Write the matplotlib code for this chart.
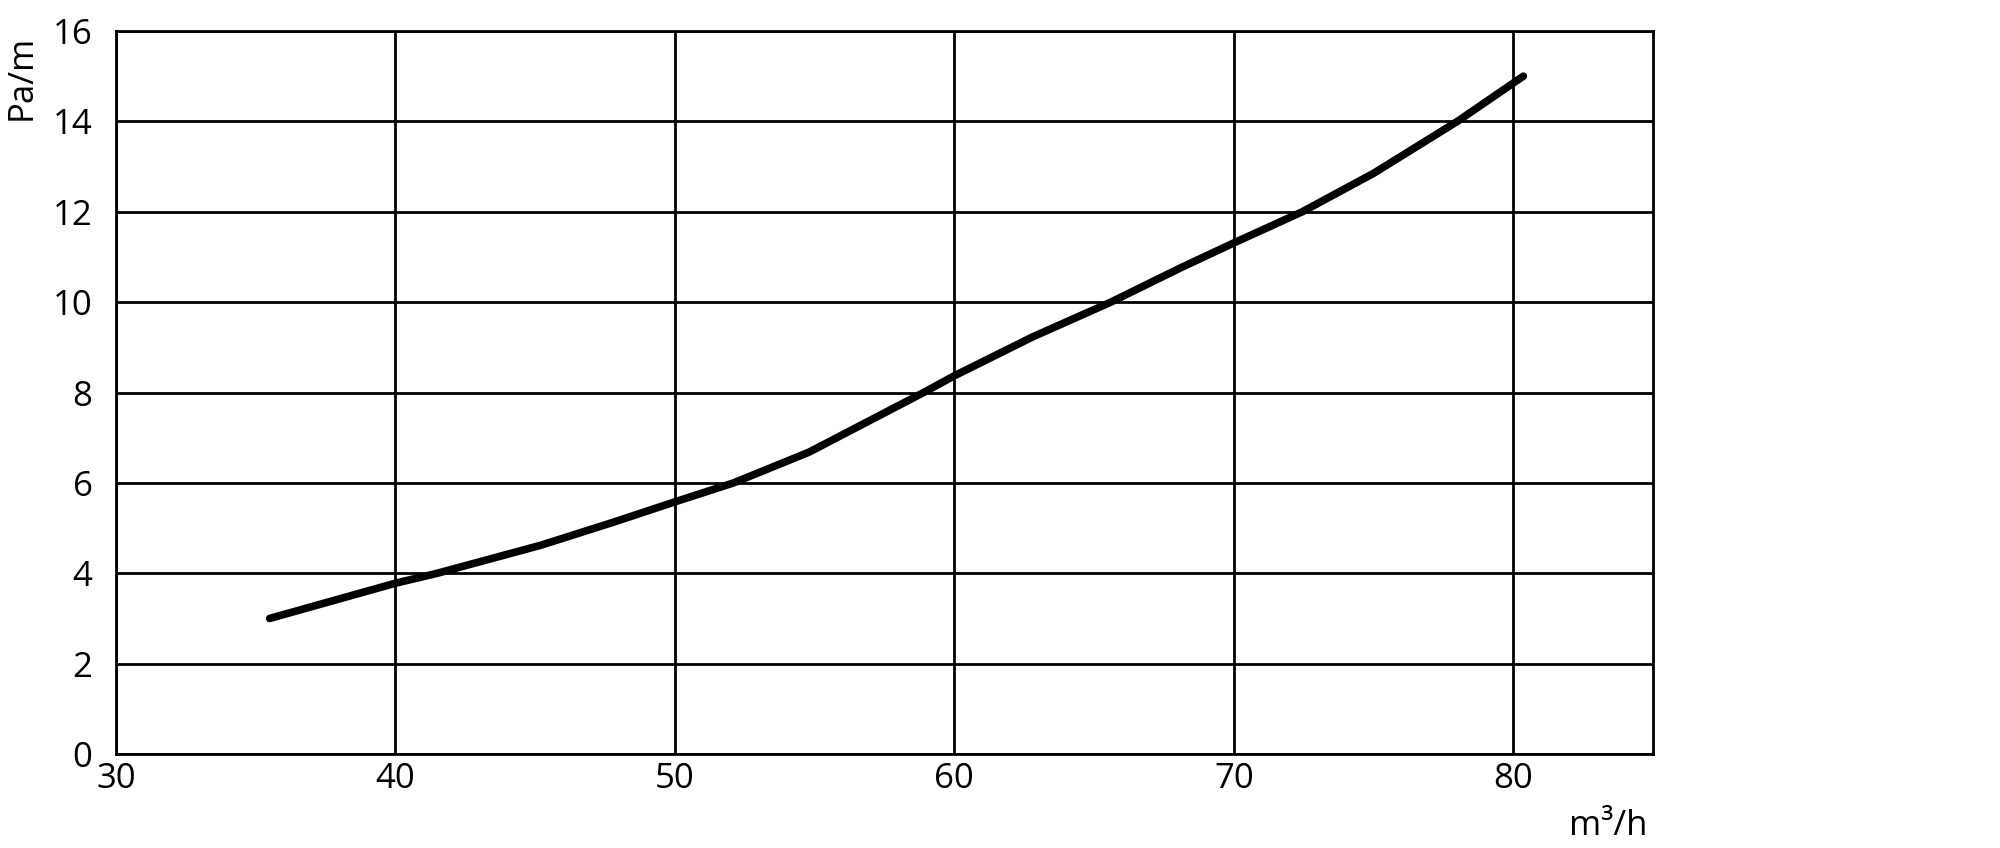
import matplotlib
matplotlib.use("Agg")
import matplotlib.pyplot as plt

# Data
flow = [35.5, 40.0, 41.5, 45.2, 47.8, 50.0, 52.1, 54.8, 58.9, 60.0, 62.8, 65.6,
        68.1, 70.0, 72.45, 75.0, 78.0, 80.36]
pressure = [3.0, 3.78, 4.0, 4.62, 5.13, 5.58, 6.0, 6.68, 8.0, 8.37, 9.23, 10.0,
            10.76, 11.31, 12.0, 12.85, 14.0, 15.0]
x_ticks = [30, 40, 50, 60, 70, 80]
y_ticks = [0, 2, 4, 6, 8, 10, 12, 14, 16]

plt.rcParams['font.family'] = ['Open Sans', 'DejaVu Sans']

W, H = 2000, 848
fig = plt.figure(figsize=(W / 100, H / 100), dpi=100)
ax = fig.add_axes([116 / W, (H - 754) / H, (1653 - 116) / W, (754 - 31) / H])

ax.plot(flow, pressure, color='black', lw=5.5, solid_capstyle='round',
        solid_joinstyle='round', zorder=3)

ax.set_xlim(30, 85)
ax.set_ylim(0, 16)
ax.set_xticks(x_ticks)
ax.set_yticks(y_ticks)
ax.grid(True, color='black', lw=2.0)
ax.set_axisbelow(True)
for s in ax.spines.values():
    s.set_color('black')
    s.set_linewidth(2.0)
ax.tick_params(axis='both', length=0, labelsize=25, colors='black')
ax.tick_params(axis='y', pad=17)
ax.tick_params(axis='x', pad=6)

fig.text(22 / W, (H - 35) / H, 'Pa/m', rotation=90, ha='center', va='top', fontsize=25)
fig.text(1648 / W, (H - 826) / H, 'm³/h', ha='right', va='center', fontsize=25)

fig.savefig('out.png', dpi=100, facecolor='white')
